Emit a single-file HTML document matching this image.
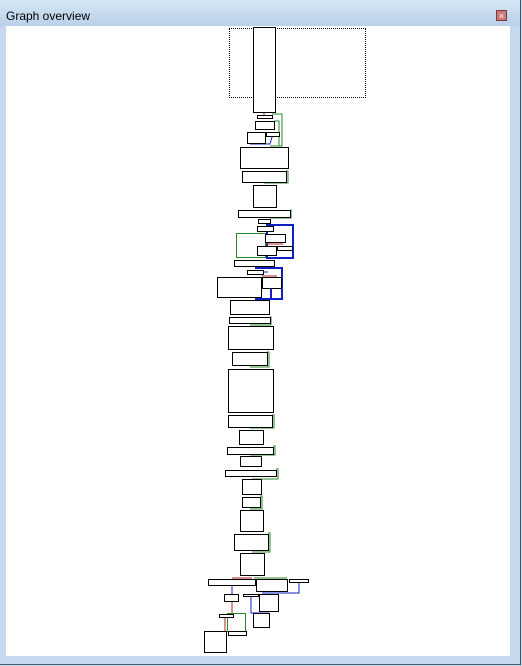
<!DOCTYPE html>
<html><head><meta charset="utf-8"><style>
html,body{margin:0;padding:0;width:522px;height:666px;overflow:hidden;background:#c9dcef;font-family:"Liberation Sans",sans-serif}
#win{position:absolute;left:0;top:0;width:520px;height:664px;border-right:1px solid #3d5a6a;border-bottom:1px solid #3d5a6a;background:linear-gradient(#d7e6f5,#b9d1ea 26px,#c6d9ee 27px)}
#title{position:absolute;left:6px;top:9px;font-size:12px;color:#000}
#close{position:absolute;left:496px;top:10px;width:11px;height:11px;background:#c97a7a;border:1px solid #7a3a3a;color:#fff;font-size:9px;line-height:10px;text-align:center;box-sizing:border-box}
#content{position:absolute;left:6px;top:26px;width:504px;height:630px;background:#fff}
#vp{position:absolute;left:229px;top:28px;width:135px;height:68px;border:1px dotted #000}
svg{position:absolute;left:0;top:0}
</style></head><body>
<div id="win"><div id="title">Graph overview</div><div id="close">×</div><div id="content"></div></div>
<div id="vp"></div>
<svg width="522" height="666" viewBox="0 0 522 666" shape-rendering="crispEdges">
<g fill="none" stroke-width="1">
<g stroke="#2a8a2a">
<polyline points="272,114 282,114 282,146 270,146"/>
<polyline points="274,121 279,121 279,146"/>
<polyline points="286,171 288,171 288,183 264,183"/>
<polyline points="290,210 291,210 291,218 270,218"/>
<rect x="236.5" y="233.5" width="29" height="24"/>
<polyline points="270,317 271,317 271,325 250,325"/>
<polyline points="267,352 269,352 269,367 250,367"/>
<polyline points="272,415 274,415 274,428 250,428"/>
<polyline points="273,446 275,446 275,455 250,455"/>
<polyline points="276,469 278,469 278,479 252,479"/>
<polyline points="260,496 262,496 262,509 250,509"/>
<polyline points="268,533 270,533 270,552 252,552"/>
<polyline points="254,578 287,578"/>
<rect x="227.5" y="613.5" width="18" height="18"/>
</g>
<g stroke="#1020c0" stroke-width="2">
<rect x="267" y="225" width="26" height="33"/>
<polyline points="255,268 282,268 282,299 255,299"/>
<rect x="271" y="288" width="11" height="11"/>
</g>
<g stroke="#1020c0">
<polyline points="250,144 270,144 272,137"/>
<polyline points="299,582 299,593 262,593"/>
<polyline points="251,596 251,613 269,613"/>
<line x1="232" y1="585" x2="232" y2="594"/>
<line x1="264" y1="272" x2="268" y2="272"/>
</g>
<g stroke="#b02020">
<line x1="232" y1="578" x2="252" y2="578"/>
<line x1="232" y1="601" x2="232" y2="613"/>
<line x1="225" y1="617" x2="225" y2="631"/>
<line x1="266" y1="244" x2="283" y2="244"/>
<line x1="262" y1="276" x2="277" y2="276"/>
<line x1="264" y1="112" x2="264" y2="115"/>
</g>
<g stroke="#000" fill="#fff">
<rect x="253.5" y="27.5" width="22" height="85"/>
<rect x="257.5" y="115.5" width="15" height="3"/>
<rect x="255.5" y="121.5" width="19" height="8"/>
<rect x="247.5" y="132.5" width="18" height="11"/>
<rect x="266.5" y="132.5" width="13" height="4"/>
<rect x="240.5" y="147.5" width="48" height="21"/>
<rect x="242.5" y="171.5" width="44" height="11"/>
<rect x="253.5" y="185.5" width="23" height="22"/>
<rect x="238.5" y="210.5" width="52" height="7"/>
<rect x="258.5" y="219.5" width="12" height="4"/>
<rect x="257.5" y="226.5" width="16" height="5"/>
<rect x="265.5" y="234.5" width="20" height="8"/>
<rect x="257.5" y="246.5" width="19" height="9"/>
<rect x="277.5" y="246.5" width="15" height="4"/>
<rect x="234.5" y="260.5" width="40" height="6"/>
<rect x="247.5" y="270.5" width="16" height="4"/>
<rect x="217.5" y="277.5" width="44" height="20"/>
<rect x="262.5" y="277.5" width="19" height="11"/>
<rect x="230.5" y="300.5" width="39" height="14"/>
<rect x="229.5" y="317.5" width="41" height="6"/>
<rect x="228.5" y="326.5" width="45" height="23"/>
<rect x="232.5" y="352.5" width="35" height="13"/>
<rect x="228.5" y="369.5" width="45" height="43"/>
<rect x="228.5" y="415.5" width="44" height="12"/>
<rect x="239.5" y="430.5" width="24" height="14"/>
<rect x="227.5" y="447.5" width="46" height="7"/>
<rect x="240.5" y="456.5" width="21" height="10"/>
<rect x="225.5" y="470.5" width="51" height="6"/>
<rect x="242.5" y="479.5" width="19" height="15"/>
<rect x="242.5" y="497.5" width="18" height="10"/>
<rect x="240.5" y="510.5" width="23" height="21"/>
<rect x="234.5" y="534.5" width="34" height="16"/>
<rect x="240.5" y="553.5" width="24" height="22"/>
<rect x="208.5" y="579.5" width="47" height="6"/>
<rect x="256.5" y="579.5" width="31" height="12"/>
<rect x="289.5" y="579.5" width="19" height="3"/>
<rect x="224.5" y="594.5" width="14" height="7"/>
<rect x="243.5" y="594.5" width="15" height="2"/>
<rect x="259.5" y="594.5" width="19" height="17"/>
<rect x="253.5" y="613.5" width="16" height="14"/>
<rect x="219.5" y="614.5" width="14" height="3"/>
<rect x="228.5" y="631.5" width="18" height="4"/>
<rect x="204.5" y="631.5" width="22" height="21"/>
</g>
</g>
</svg>
</body></html>
